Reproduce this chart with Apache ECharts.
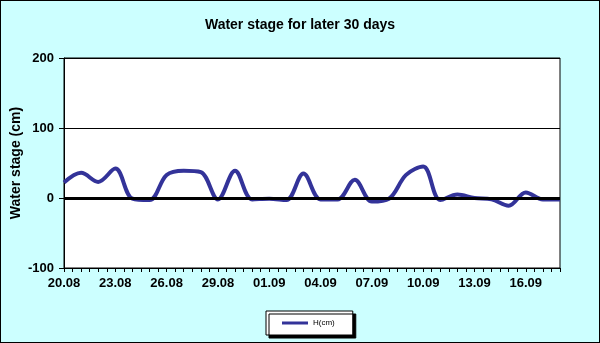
<!DOCTYPE html>
<html>
<head>
<meta charset="utf-8">
<script src="https://cdn.jsdelivr.net/npm/echarts@6/dist/echarts.min.js"></script>
<style>
html,body{margin:0;padding:0;background:#fff;}
#wrap{position:absolute;left:0;top:0;width:598px;height:341px;border:1px solid #000;background:#CCFFFF;}
#c{position:absolute;left:-1px;top:-1px;width:600px;height:343px;}
</style>
</head>
<body>
<div id="wrap"><div id="c"></div></div>
<script>
const titleText = 'Water stage for later 30 days';
const yAxisName = 'Water stage (cm)';
const seriesName = 'H(cm)';
const dates = ['20.08','21.08','22.08','23.08','24.08','25.08','26.08','27.08','28.08','29.08',
  '30.08','31.08','01.09','02.09','03.09','04.09','05.09','06.09','07.09','08.09',
  '09.09','10.09','11.09','12.09','13.09','14.09','15.09','16.09','17.09','18.09'];
const values = [22,36,23,42,-1,-3,33,39,37,-2,
  39,-2,-1,-3,35,-2,-2,26,-5,-1,
  33,45,-3,5,0,-2,-11,8,-2,-2];
const yTicks = [-100,0,100,200];

const chart = echarts.init(document.getElementById('c'), null, {renderer:'canvas'});
const fontFam = 'Arial, "Liberation Sans", sans-serif';
chart.setOption({
  backgroundColor: 'transparent',
  animation: false,
  title: {
    text: titleText, left: 'center', top: 13,
    textStyle: {fontFamily: fontFam, fontSize: 14, fontWeight: 'bold', color: '#000'}
  },
  legend: {
    bottom: 8, left: 266,
    data: [seriesName],
    backgroundColor: '#fff', borderColor: '#000', borderWidth: 1,
    padding: [8, 18, 8, 16],
    shadowColor: '#000', shadowOffsetX: 3, shadowOffsetY: 3, shadowBlur: 0,
    itemWidth: 26, itemHeight: 3, icon: 'rect', itemGap: 4,
    textStyle: {fontFamily: fontFam, fontSize: 8, color: '#000'}
  },
  grid: {left: 64, top: 58, right: 40, bottom: 75, containLabel: false, outerBoundsMode: 'none',
    show: true, backgroundColor: '#fff', borderColor: '#000', borderWidth: 1},
  xAxis: {
    type: 'value', min: 0, max: dates.length - 1, interval: 3,
    axisLine: {onZero: false, lineStyle: {color: '#000', width: 1}},
    axisTick: {show: true, length: 4, lineStyle: {color: '#000'}},
    minorTick: {show: true, splitNumber: 6, length: 4, lineStyle: {color: '#000'}},
    splitLine: {show: false},
    axisLabel: {
      showMaxLabel: false, margin: 9,
      fontFamily: fontFam, fontSize: 13, fontWeight: 'bold', color: '#000',
      formatter: v => (Number.isInteger(v) && v % 3 === 0) ? dates[v] : ''
    }
  },
  yAxis: {
    type: 'value', min: yTicks[0], max: yTicks[yTicks.length-1], interval: 100,
    name: yAxisName, nameLocation: 'middle', nameGap: 41, nameMoveOverlap: false,
    nameTextStyle: {fontFamily: fontFam, fontSize: 14, fontWeight: 'bold', color: '#000'},
    axisLine: {show: true, lineStyle: {color: '#000'}},
    axisTick: {show: true, length: 5, lineStyle: {color: '#000'}},
    splitLine: {show: true, lineStyle: {color: '#000', width: 1}},
    axisLabel: {margin: 10, fontFamily: fontFam, fontSize: 13, fontWeight: 'bold', color: '#000'}
  },
  series: [{
    name: seriesName, type: 'line', smooth: 0.35, symbol: 'none',
    data: values.map((v, i) => [i, v]),
    lineStyle: {color: '#333399', width: 4},
    itemStyle: {color: '#333399'},
    markLine: {
      silent: true, symbol: 'none', label: {show: false},
      lineStyle: {color: '#000', width: 3, type: 'solid'},
      data: [{yAxis: 0}]
    },
    z: 3
  }]
});
</script>
</body>
</html>
